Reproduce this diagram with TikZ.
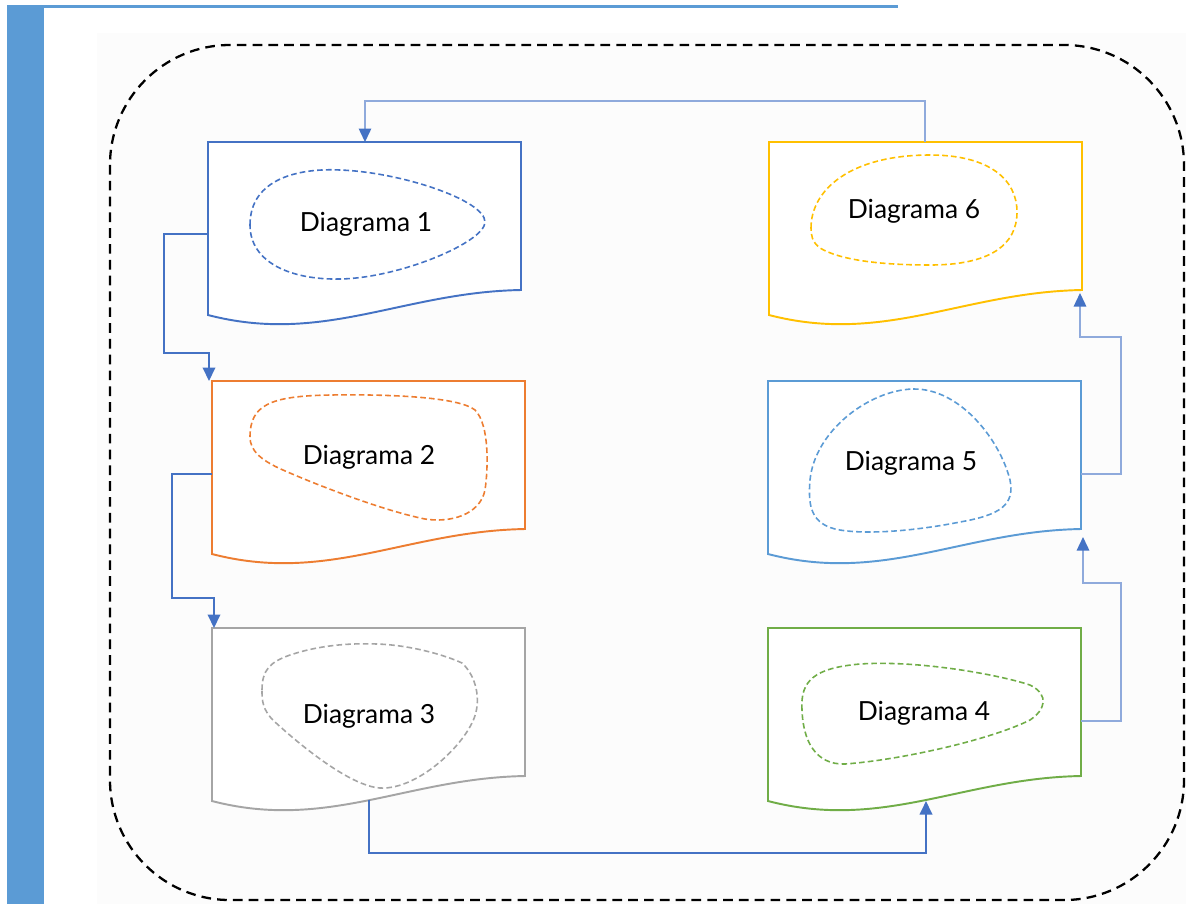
\documentclass[tikz,border=0pt]{standalone}
\usepackage{fontspec}
\setmainfont{Lato}
\usetikzlibrary{arrows.meta,calc}
\definecolor{c1}{HTML}{4472C4}
\definecolor{c2}{HTML}{ED7D31}
\definecolor{c3}{HTML}{A5A5A5}
\definecolor{c4}{HTML}{70AD47}
\definecolor{c5}{HTML}{5B9BD5}
\definecolor{c6}{HTML}{FFC000}
\definecolor{barblue}{HTML}{5B9BD5}
\definecolor{connlight}{HTML}{8FAADC}
\definecolor{panel}{HTML}{FCFCFC}
\newcommand{\docshape}[4]{%
  \draw[docline,draw=#4,fill=white] (#2,#3+173) -- (#2,#3) -- (#2+313,#3) -- (#2+313,#3+148)
    .. controls (#2+195,#3+150) and (#2+115,#3+203) .. (#2,#3+173) -- cycle;
  \coordinate (#1-nw) at (#2,#3);
}
\begin{document}
\begin{tikzpicture}[x=0.02cm,y=-0.02cm,
  docline/.style={line width=1.1pt, line join=miter},
  blobline/.style={line width=0.9pt, dash pattern=on 3.2pt off 1.8pt},
  diaglabel/.style={font=\fontsize{15}{17}\selectfont, text=black, inner sep=0pt},
  connA/.style={draw=c1, line width=1.1pt, -{Triangle[length=0.27cm,width=0.25cm,color=c1]}},
  connB/.style={draw=connlight, line width=0.8pt, -{Triangle[length=0.27cm,width=0.25cm,color=c1]}},
  frame/.style={draw=black, line width=1.3pt, dash pattern=on 5.5pt off 3.5pt, rounded corners=2.4cm}
]
\useasboundingbox (0,0) rectangle (1186,904);
\fill[white] (0,0) rectangle (1186,904);
\fill[panel] (97,33) rectangle (1186,904);
\fill[barblue] (7,7) rectangle (44,904);
\fill[barblue] (7,5) rectangle (898,8);

\draw[frame] (110,45) rectangle (1184,900);

% documents
\docshape{d1}{208}{142}{c1}
\docshape{d2}{212}{381}{c2}
\docshape{d3}{212}{628}{c3}
\docshape{d4}{768}{628}{c4}
\docshape{d5}{768}{381}{c5}
\docshape{d6}{769}{142}{c6}

% blobs
\draw[blobline,draw=c1] (250,225) .. controls (250,178) and (300,168) .. (340,170)
  .. controls (400,172) and (485,200) .. (485,222)
  .. controls (485,242) and (400,278) .. (340,279)
  .. controls (290,280) and (250,262) .. (250,225) -- cycle;
\draw[blobline,draw=c2] (250,437) .. controls (250,405) and (270,396) .. (330,395)
  .. controls (400,394) and (460,398) .. (475,410)
  .. controls (490,425) and (488,470) .. (485,490)
  .. controls (480,515) and (450,523) .. (425,519)
  .. controls (380,510) and (310,482) .. (283,470)
  .. controls (260,460) and (250,450) .. (250,437) -- cycle;
\draw[blobline,draw=c3] (262,690) .. controls (262,670) and (270,662) .. (290,655)
  .. controls (320,645) and (350,643) .. (377,644)
  .. controls (410,645) and (445,655) .. (462,663)
  .. controls (475,675) and (480,695) .. (476,712)
  .. controls (470,740) and (420,790) .. (380,788)
  .. controls (350,786) and (300,745) .. (275,722)
  .. controls (262,710) and (262,700) .. (262,690) -- cycle;
\draw[blobline,draw=c4] (802,710) .. controls (800,680) and (815,668) .. (860,664)
  .. controls (920,660) and (1000,675) .. (1030,685)
  .. controls (1050,695) and (1045,710) .. (1030,720)
  .. controls (990,740) and (900,760) .. (845,764)
  .. controls (815,765) and (803,740) .. (802,710) -- cycle;
\draw[blobline,draw=c5] (913,389) .. controls (960,388) and (1000,440) .. (1010,480)
  .. controls (1015,505) and (1000,515) .. (960,522)
  .. controls (920,530) and (870,535) .. (840,530)
  .. controls (810,525) and (808,505) .. (810,480)
  .. controls (815,430) and (870,390) .. (913,389) -- cycle;
\draw[blobline,draw=c6] (811,228) .. controls (811,190) and (850,155) .. (930,155)
  .. controls (990,155) and (1017,180) .. (1017,212)
  .. controls (1017,245) and (990,265) .. (930,265)
  .. controls (880,265) and (840,260) .. (820,248)
  .. controls (812,242) and (811,235) .. (811,228) -- cycle;

% labels
\node[diaglabel] (t1) at (366,224) {Diagrama 1};
\node[diaglabel] (t2) at (369,457) {Diagrama 2};
\node[diaglabel] (t3) at (369,716) {Diagrama 3};
\node[diaglabel] (t4) at (924,713) {Diagrama 4};
\node[diaglabel] (t5) at (911,463) {Diagrama 5};
\node[diaglabel] (t6) at (914,211) {Diagrama 6};

% connection points
\coordinate (d6-top) at (925,142);
\coordinate (d1-top) at (365,142);
\coordinate (d1-w) at (208,234);
\coordinate (d2-in) at (209,381);
\coordinate (d2-w) at (212,474);
\coordinate (d3-in) at (214,628);
\coordinate (d3-b) at (369,800);
\coordinate (d4-b) at (926,801);
\coordinate (d4-e) at (1081,721);
\coordinate (d5-in) at (1083,537);
\coordinate (d5-e) at (1081,474);
\coordinate (d6-in) at (1080,293);

% connectors
\draw[connB] (d6-top) -- ++(0,-41) -| (d1-top);
\draw[connA] (d1-w) -- ++(-44,0) -- ++(0,119) -| (d2-in);
\draw[connA] (d2-w) -- ++(-40,0) -- ++(0,124) -| (d3-in);
\draw[connA] (d3-b) -- ++(0,53) -| (d4-b);
\draw[connB] (d4-e) -- ++(40,0) -- ++(0,-138) -| (d5-in);
\draw[connB] (d5-e) -- ++(40,0) -- ++(0,-137) -| (d6-in);
\end{tikzpicture}
\end{document}
